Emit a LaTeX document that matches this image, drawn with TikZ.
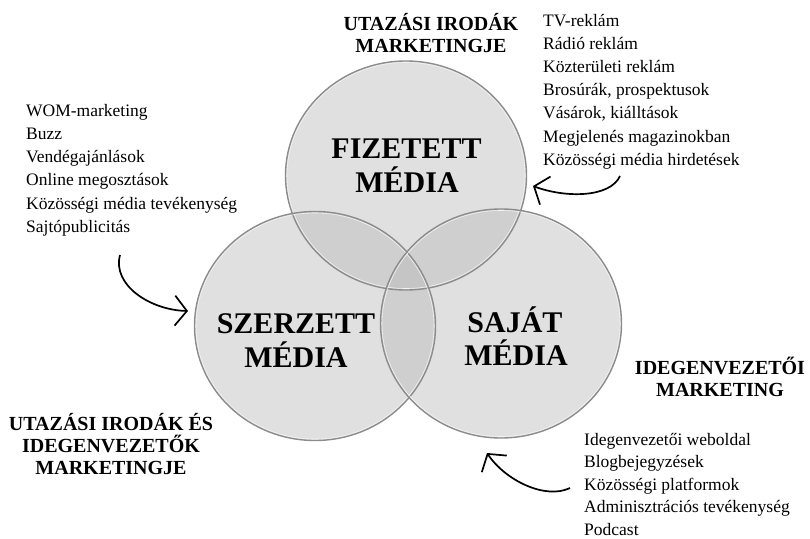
\documentclass[tikz,border=0pt]{standalone}
\usepackage{fontspec}
\setmainfont{Liberation Serif}
\usetikzlibrary{arrows.meta,shapes.geometric}

\definecolor{circfill}{HTML}{E0E0E0}
\definecolor{pairfill}{HTML}{CFCFCF}
\definecolor{triplefill}{HTML}{C5C5C5}
\definecolor{circline}{HTML}{8C8C8C}
\definecolor{rimlight}{HTML}{F2F2F2}

\begin{document}
\begin{tikzpicture}[x=1pt,y=-1pt,
  listtext/.style={anchor=base west, inner sep=0pt, font=\fontsize{17.5}{21}\selectfont},
  headtext/.style={anchor=base, inner sep=0pt, font=\fontsize{20}{24}\selectfont\bfseries},
  bigtext/.style={anchor=base, inner sep=0pt, font=\fontsize{30}{35}\selectfont\bfseries},
  arrowline/.style={line width=1.7pt, -{Straight Barb[length=12pt,width=30pt]}},
  venn/.style={ellipse, minimum width=241pt, minimum height=229pt, inner sep=0pt, fill=circfill},
  rim/.style={draw=circline, line width=1.4pt},
  rimhi/.style={draw=rimlight, line width=0.6pt}]
\useasboundingbox (0,0) rectangle (810,538);

% circles
\node[venn] (fiz) at (406,175.5) {};
\node[venn] (sze) at (315,326) {};
\node[venn] (saj) at (501,323.5) {};

% pairwise overlaps
\begin{scope}
  \clip (fiz.center) ellipse [x radius=120.5, y radius=114.5];
  \fill[pairfill] (sze.center) ellipse [x radius=120.5, y radius=114.5];
  \fill[pairfill] (saj.center) ellipse [x radius=120.5, y radius=114.5];
\end{scope}
\begin{scope}
  \clip (sze.center) ellipse [x radius=120.5, y radius=114.5];
  \fill[pairfill] (saj.center) ellipse [x radius=120.5, y radius=114.5];
  \clip (fiz.center) ellipse [x radius=120.5, y radius=114.5];
  \fill[triplefill] (saj.center) ellipse [x radius=120.5, y radius=114.5];
\end{scope}

% rims
\foreach \c in {fiz,sze,saj} {
  \draw[rim] (\c.center) ellipse [x radius=120.5, y radius=114.5];
  \draw[rimhi] (\c.center) ellipse [x radius=119, y radius=113];
}

% circle labels
\node[bigtext] (fiz1) at (406.5,158) {FIZETETT};
\node[bigtext] (fiz2) at (407,192) {MÉDIA};
\node[bigtext] (sze1) at (296,333) {SZERZETT};
\node[bigtext] (sze2) at (296,367) {MÉDIA};
\node[bigtext] (saj1) at (515,332) {SAJÁT};
\node[bigtext] (saj2) at (516,365) {MÉDIA};

% headings
\node[headtext] (h1a) at (431,30) {UTAZÁSI IRODÁK};
\node[headtext] (h1b) at (431,52) {MARKETINGJE};
\node[headtext] (h2a) at (720,374) {IDEGENVEZETŐI};
\node[headtext] (h2b) at (720,396) {MARKETING};
\node[headtext] (h3a) at (111,430) {UTAZÁSI IRODÁK ÉS};
\node[headtext] (h3b) at (111,452) {IDEGENVEZETŐK};
\node[headtext] (h3c) at (111,474) {MARKETINGJE};

% lists
\foreach \t [count=\i] in {TV-reklám, Rádió reklám, Közterületi reklám, {Brosúrák, prospektusok}, {Vásárok, kiálltások}, Megjelenés magazinokban, Közösségi média hirdetések}
  \node[listtext] (r\i) at (543,{26+23.2*(\i-1)}) {\t};
\foreach \t [count=\i] in {WOM-marketing, Buzz, Vendégajánlások, Online megosztások, Közösségi média tevékenység, Sajtópublicitás}
  \node[listtext] (l\i) at (26,{116+23.3*(\i-1)}) {\t};
\foreach \t [count=\i] in {Idegenvezetői weboldal, Blogbejegyzések, Közösségi platformok, Adminisztrációs tevékenység, Podcast}
  \node[listtext] (b\i) at (584,{445+22.6*(\i-1)}) {\t};

% arrows
\coordinate (a1s) at (620,176);
\coordinate (a1e) at (533,186);
\coordinate (a2s) at (120,255);
\coordinate (a2e) at (188,311);
\coordinate (a3s) at (570,488);
\coordinate (a3e) at (487,453);
\draw[arrowline] (a1s) .. controls (610,198) and (565,198) .. (a1e);
\draw[arrowline] (a2s) .. controls (112,285) and (150,310) .. (a2e);
\draw[arrowline] (a3s) .. controls (545,500) and (505,480) .. (a3e);
\end{tikzpicture}
\end{document}
